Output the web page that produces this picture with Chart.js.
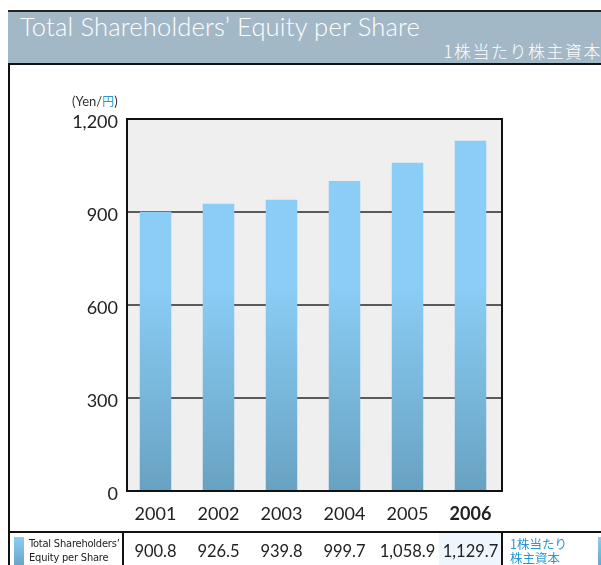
<!DOCTYPE html>
<html>
<head>
<meta charset="utf-8">
<script src="https://cdn.jsdelivr.net/npm/chart.js@4"></script>
<style>
  html, body { margin: 0; padding: 0; background: #fff; }
  body { width: 601px; height: 565px; position: relative; overflow: hidden; font-family: Lato, 'Noto Sans', sans-serif; }
  #chart { position: absolute; left: 0; top: 0; }
  .frame-left { position: absolute; left: 8px; top: 10px; width: 2px; height: 555px; background: #111; }
  .header { position: absolute; left: 8px; top: 10px; width: 593px; height: 51px; background: #a3b8c7;
            border-top: 2px solid #222; border-bottom: 2px solid #111; box-sizing: content-box; }
  .header .en { position: absolute; left: 12px; top: -1px; color: #fff; font-size: 25.5px; font-weight: 300; letter-spacing: 0.2px; }
  .header .ja { position: absolute; right: -1px; top: 26px; color: #fff; font-size: 17px; font-weight: 300;
                font-family: 'Noto Sans CJK JP', sans-serif; letter-spacing: 1.5px; }
  .unit { position: absolute; left: 72px; top: 92px; font-size: 13px; color: #333; }
  .unit span { color: #2a98d8; font-family: 'Noto Sans CJK JP', sans-serif; font-size: 12px; }
  .row-line { position: absolute; left: 8px; top: 531px; width: 593px; height: 2px; background: #111; }
  .vline { position: absolute; top: 531px; width: 2px; height: 34px; background: #111; }
  .swatch { position: absolute; top: 537px; width: 10px; height: 28px; background: linear-gradient(#8bcdf6, #6aa5c6); }
  .rowlabel { position: absolute; left: 29px; top: 537px; font-size: 11px; line-height: 14px; color: #222; white-space: nowrap;
              font-family: 'Liberation Sans Narrow', 'DejaVu Sans Condensed', sans-serif; letter-spacing: -0.2px; }
  .val { position: absolute; top: 540px; height: 25px; text-align: center; font-size: 16.5px; color: #222; line-height: 22px; }
  .val.hl { background: #eef5fc; top: 533px; height: 32px; line-height: 36px; }
  .ja-label { position: absolute; left: 510px; top: 537px; font-size: 12.5px; line-height: 14px; color: #2a98d8;
              font-family: 'Noto Sans CJK JP', sans-serif; }
</style>
</head>
<body>
<canvas id="chart" width="601" height="565"></canvas>
<div class="frame-left"></div>
<div class="header">
  <div class="en">Total Shareholders’ Equity per Share</div>
  <div class="ja">1株当たり株主資本</div>
</div>
<div class="unit">(Yen/<span>円</span>)</div>
<div class="row-line"></div>
<div id="table"></div>
<div class="rowlabel">Total Shareholders’<br>Equity per Share</div>
<div class="vline" style="left:122px"></div>
<div class="vline" style="left:501px"></div>
<div class="swatch" style="left:14px"></div>
<div class="swatch" style="left:598px"></div>
<div class="ja-label">1株当たり<br>株主資本</div>
<script>
// Data
const years = ['2001', '2002', '2003', '2004', '2005', '2006'];
const equityPerShare = [900.8, 926.5, 939.8, 999.7, 1058.9, 1129.7];
const yTicks = [0, 300, 600, 900, 1200];

const COLORS = {
  barTop: '#8bcdf6',
  barBottom: '#68a2c2',
  plotBg: '#efefef',
  grid: '#5a5a5a',
  border: '#111',
  text: '#222',
};

// the frame sits a few px right of where the categories begin
const FRAME_INSET = 3;

// table values under the bars
const table = document.getElementById('table');
equityPerShare.forEach((v, i) => {
  const d = document.createElement('div');
  d.className = 'val' + (i === years.length - 1 ? ' hl' : '');
  d.style.left = (124 + i * 63) + 'px';
  d.style.width = '63px';
  d.textContent = v.toLocaleString('en-US', { minimumFractionDigits: 1 });
  table.appendChild(d);
});

const plotFrame = {
  id: 'plotFrame',
  beforeDraw(chart) {
    const { ctx, chartArea: a } = chart;
    ctx.save();
    ctx.fillStyle = COLORS.plotBg;
    ctx.fillRect(a.left + FRAME_INSET, a.top, a.right - a.left - FRAME_INSET, a.bottom - a.top);
    ctx.restore();
  },
  afterDatasetsDraw(chart) {
    const { ctx, chartArea: a } = chart;
    ctx.save();
    // hide grid stubs left of the frame
    ctx.fillStyle = '#fff';
    ctx.fillRect(a.left - 1, a.top, FRAME_INSET, a.bottom - a.top);
    ctx.strokeStyle = COLORS.border;
    ctx.lineWidth = 2;
    ctx.strokeRect(a.left + FRAME_INSET, a.top, a.right - a.left - FRAME_INSET, a.bottom - a.top);
    ctx.restore();
  }
};

new Chart(document.getElementById('chart'), {
  type: 'bar',
  data: {
    labels: years,
    datasets: [{
      data: equityPerShare,
      backgroundColor: function(context) {
        const area = context.chart.chartArea;
        if (!area) return COLORS.barTop;
        const g = context.chart.ctx.createLinearGradient(0, area.top, 0, area.bottom);
        g.addColorStop(0, COLORS.barTop);
        g.addColorStop(0.45, COLORS.barTop);
        g.addColorStop(1, COLORS.barBottom);
        return g;
      },
      borderWidth: 0,
      barPercentage: 0.5,
      categoryPercentage: 1,
    }]
  },
  options: {
    responsive: false,
    animation: false,
    layout: { padding: { top: 119, right: 99, left: 0, bottom: 0 } },
    plugins: {
      legend: { display: false },
      tooltip: { enabled: false }
    },
    scales: {
      x: {
        grid: { display: false },
        border: { display: false },
        ticks: {
          color: COLORS.text,
          padding: 4,
          font: function(ctx) {
            return { family: 'Lato', size: 18, weight: ctx.index === years.length - 1 ? 'bold' : 'normal' };
          }
        },
        afterFit: function(scale) { scale.height = 74; }
      },
      y: {
        min: 0,
        max: 1200,
        afterBuildTicks: function(scale) { scale.ticks = yTicks.map(v => ({ value: v })); },
        grid: {
          drawTicks: false,
          lineWidth: 2,
          color: function(ctx) {
            return (ctx.tick && (ctx.tick.value === 0 || ctx.tick.value === 1200)) ? 'rgba(0,0,0,0)' : COLORS.grid;
          }
        },
        border: { display: false },
        ticks: {
          color: COLORS.text,
          padding: 6,
          labelOffset: 3,
          font: { family: 'Lato', size: 18 },
          callback: function(value) { return value.toLocaleString('en-US'); }
        },
        afterFit: function(scale) { scale.width = 124; }
      }
    }
  },
  plugins: [plotFrame]
});
</script>
</body>
</html>
